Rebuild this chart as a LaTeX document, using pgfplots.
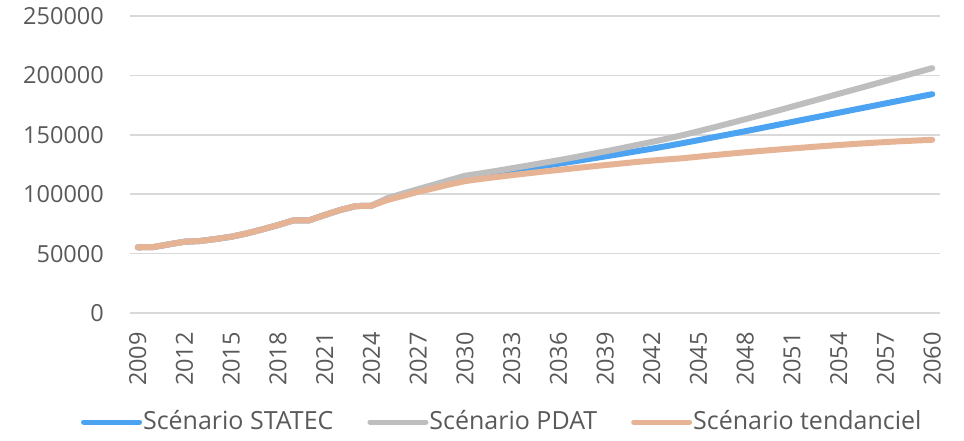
\documentclass[border=0pt]{standalone}
\usepackage{pgfplots}
\usepackage{pgfplotstable}
\pgfplotsset{compat=1.18}
\usepackage{fontspec}
\setmainfont{Open Sans}

\definecolor{statec}{HTML}{4BA3F2}
\definecolor{pdat}{HTML}{BEBEBE}
\definecolor{tend}{HTML}{E6B394}
\definecolor{txt}{HTML}{595959}
\definecolor{gridc}{HTML}{D9D9D9}

% year, STATEC, PDAT, tendanciel
\pgfplotstableread{
year statec pdat tend
2009 55300 55300 55300
2010 55500 55500 55500
2011 57800 57800 57800
2012 60000 60000 60000
2013 60600 60600 60600
2014 62300 62300 62300
2015 64200 64200 64200
2016 67000 67000 67000
2017 70400 70400 70400
2018 74000 74000 74000
2019 78000 78000 78000
2020 78000 78000 78000
2021 82500 82500 82500
2022 86700 86700 86700
2023 90000 90000 90000
2024 90300 90300 90300
2025 96000 96500 95000
2026 100000 100500 98500
2027 103700 104300 102000
2028 107300 108000 105000
2029 111000 111800 108200
2030 114500 115500 111000
2031 116300 117500 112800
2032 118100 119600 114400
2033 119900 121800 116000
2034 121800 124000 117500
2035 123700 126300 119000
2036 125600 128600 120400
2037 127600 131000 121800
2038 129700 133500 123200
2039 131800 136000 124500
2040 133900 138600 125800
2041 136100 141300 127100
2042 138300 144000 128300
2043 140600 146800 129300
2044 143000 149800 130300
2045 145500 153000 131600
2046 148000 156300 132900
2047 150500 159700 134100
2048 153000 163100 135300
2049 155600 166600 136400
2050 158200 170100 137500
2051 160800 173700 138500
2052 163400 177300 139500
2053 166000 180900 140500
2054 168600 184500 141400
2055 171200 188100 142300
2056 173800 191700 143100
2057 176400 195300 143900
2058 179000 198900 144600
2059 181600 202500 145200
2060 184200 206100 145800
}\datatable

\begin{document}
\fontsize{23.5pt}{28pt}\selectfont
\begin{tikzpicture}
\useasboundingbox (-130pt,-127pt) rectangle (834pt,313pt);
\begin{axis}[
  at={(0pt,0pt)}, anchor=south west,
  scale only axis, width=810pt, height=297pt,
  xmin=2008.5, xmax=2060.5, ymin=0, ymax=250000,
  xtick={2009,2012,...,2060},
  xticklabels={2009,2012,2015,2018,2021,2024,2027,2030,2033,2036,2039,2042,2045,2048,2051,2054,2057,2060},
  ytick={0,50000,100000,150000,200000,250000},
  yticklabels={0,50000,100000,150000,200000,250000},
  scaled y ticks=false,
  scaled x ticks=false,
  axis line style={draw=none},
  tick style={draw=none},
  ymajorgrids,
  grid style={gridc, line width=1.5pt},
  ticklabel style={font=\fontsize{23.5pt}{28pt}\selectfont, text=txt},
  y tick label style={anchor=east, inner sep=0pt, xshift=-26pt},
  x tick label style={rotate=90, anchor=east, inner sep=0pt, xshift=-19pt},
  legend columns=3,
  legend style={at={(0.459,-0.367)}, anchor=center, draw=none, fill=none,
    font=\fontsize{25pt}{30pt}\selectfont, text=txt,
    /tikz/every even column/.append style={column sep=33pt},
    nodes={inner sep=1pt}},
  legend image code/.code={\draw[#1, line width=5pt, line cap=round] (0pt,0pt) -- (56pt,0pt);},
  every axis plot/.append style={line width=6pt, line cap=round, line join=round, no markers},
]
\addplot[statec] table[x=year, y=statec] {\datatable};
\addplot[pdat] table[x=year, y=pdat] {\datatable};
\addplot[tend] table[x=year, y=tend] {\datatable};
\legend{Scénario STATEC, Scénario PDAT, Scénario tendanciel}
\end{axis}
\end{tikzpicture}
\end{document}
